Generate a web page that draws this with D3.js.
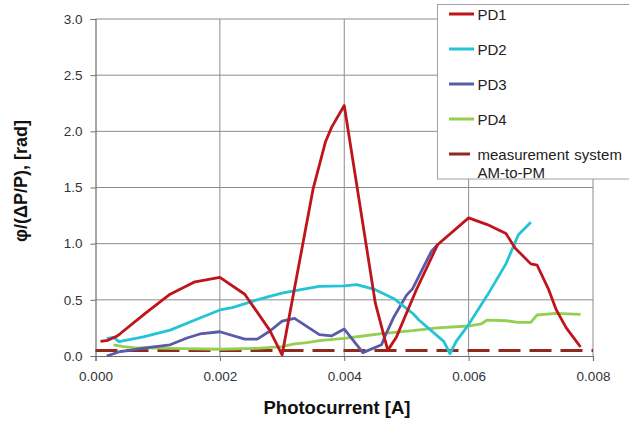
<!DOCTYPE html>
<html>
<head>
<meta charset="utf-8">
<script src="https://cdn.jsdelivr.net/npm/d3@7"></script>
<style>
  body { margin: 0; background: #fff; }
  svg { display: block; font-family: "Liberation Sans", Arial, sans-serif; }
</style>
</head>
<body>
<div id="chart"></div>
<script>
"use strict"

/* data: photocurrent [A] and phi/(dP/P) [rad] */
let pd1X = [0.00008, 0.0002, 0.00034, 0.0004, 0.0008, 0.0012, 0.0016, 0.002, 0.0024, 0.0028, 0.003, 0.0035, 0.0037, 0.0038, 0.004, 0.0045, 0.0047, 0.00484, 0.00516, 0.0055, 0.006, 0.0063, 0.0066, 0.00675, 0.007, 0.0071, 0.00728, 0.00741, 0.00757, 0.0078];
let pd1Y = [0.13, 0.14, 0.175, 0.2, 0.38, 0.55, 0.66, 0.7, 0.55, 0.23, 0.01, 1.49, 1.91, 2.04, 2.23, 0.47, 0.05, 0.17, 0.59, 0.99, 1.23, 1.17, 1.09, 0.96, 0.82, 0.81, 0.6, 0.41, 0.25, 0.08];

let pd2X = [0.00018, 0.00029, 0.00038, 0.00077, 0.0012, 0.0016, 0.002, 0.0022, 0.0026, 0.0028, 0.003, 0.0033, 0.0036, 0.004, 0.0042, 0.0045, 0.0048, 0.0051, 0.0052, 0.0056, 0.0057, 0.0058, 0.006, 0.0063, 0.0066, 0.0068, 0.007];
let pd2Y = [0.155, 0.165, 0.127, 0.17, 0.23, 0.32, 0.41, 0.43, 0.5, 0.53, 0.56, 0.59, 0.62, 0.625, 0.635, 0.59, 0.51, 0.38, 0.32, 0.13, 0.02, 0.13, 0.28, 0.54, 0.82, 1.08, 1.19];

let pd3X = [0.00018, 0.0004, 0.00055, 0.00077, 0.0012, 0.00147, 0.00168, 0.002, 0.0024, 0.0026, 0.0028, 0.003, 0.0032, 0.0036, 0.0038, 0.004, 0.0041, 0.0043, 0.0046, 0.00465, 0.0048, 0.005, 0.0051, 0.0054, 0.0055];
let pd3Y = [0.0, 0.04, 0.05, 0.07, 0.1, 0.16, 0.196, 0.216, 0.15, 0.15, 0.22, 0.31, 0.335, 0.19, 0.18, 0.24, 0.17, 0.03, 0.1, 0.17, 0.35, 0.54, 0.6, 0.93, 0.99];

let pd4X = [0.00029, 0.00045, 0.00061, 0.001, 0.0014, 0.002, 0.0026, 0.003, 0.0032, 0.0034, 0.0036, 0.004, 0.0043, 0.0046, 0.0051, 0.0055, 0.006, 0.0062, 0.0063, 0.0066, 0.0068, 0.007, 0.0071, 0.0074, 0.0078];
let pd4Y = [0.1, 0.083, 0.074, 0.07, 0.065, 0.06, 0.068, 0.083, 0.107, 0.12, 0.136, 0.157, 0.178, 0.2, 0.225, 0.25, 0.267, 0.285, 0.32, 0.314, 0.3, 0.3, 0.365, 0.38, 0.37];

let refX = [0.0, 0.008];
let refY = [0.05, 0.05];

let xTicks = [0, 0.002, 0.004, 0.006, 0.008];
let yTicks = [0, 0.5, 1.0, 1.5, 2.0, 2.5, 3.0];
let seriesNames = ["PD1", "PD2", "PD3", "PD4", "measurement system"];

let width = 629, height = 424;

let drawing = d3.select("#chart")
    .append("svg")
    .attr("width", width)
    .attr("height", height);

let x = d3.scaleLinear().domain([0, 0.008]).range([95.5, 593]);
let y = d3.scaleLinear().domain([0, 3]).range([356, 19]);

/* grid */
drawing.append("g")
    .selectAll("line.v")
    .data(xTicks.slice(1))
    .join("line")
    .attr("x1", d => x(d)).attr("x2", d => x(d))
    .attr("y1", y(3)).attr("y2", y(0))
    .attr("stroke", "#8c8c8c")
    .attr("stroke-width", 1);

drawing.append("g")
    .selectAll("line.h")
    .data(yTicks.slice(1))
    .join("line")
    .attr("x1", x(0)).attr("x2", x(0.008))
    .attr("y1", d => y(d)).attr("y2", d => y(d))
    .attr("stroke", "#8c8c8c")
    .attr("stroke-width", 1);

/* axes */
let xAxis = drawing.append("g")
    .attr("transform", `translate(0,${y(0)})`)
    .call(d3.axisBottom(x).tickValues(xTicks).tickFormat(d3.format(".3f")).tickSize(5).tickPadding(10));

let yAxis = drawing.append("g")
    .attr("transform", `translate(${x(0)},0)`)
    .call(d3.axisLeft(y).tickValues(yTicks).tickFormat(d3.format(".1f")).tickSize(5).tickPadding(8));

[xAxis, yAxis].forEach(a => {
  a.select(".domain").attr("stroke", "#6e6e6e").attr("stroke-width", 1.2);
  a.selectAll(".tick line").attr("stroke", "#6e6e6e");
  a.selectAll("text")
    .attr("fill", "#333")
    .style("font-size", "13.5px")
    .style("font-family", "'Liberation Sans', Arial, sans-serif");
});

/* series */
let series = [
  { xs: pd1X, ys: pd1Y, color: "#c0141c" },
  { xs: pd2X, ys: pd2Y, color: "#22c4d6" },
  { xs: pd3X, ys: pd3Y, color: "#5a5aa6" },
  { xs: pd4X, ys: pd4Y, color: "#94cf52" }
];

let line = d3.line().x(d => x(d[0])).y(d => y(d[1]));

/* measurement system dashed line under the curves */
drawing.append("path")
    .attr("d", line(d3.zip(refX, refY)))
    .attr("fill", "none")
    .attr("stroke", "#8e2a1e")
    .attr("stroke-width", 3)
    .attr("stroke-dasharray", "22,9");

[3, 2, 1, 0].forEach(i => {
  let s = series[i];
  drawing.append("path")
    .attr("d", line(d3.zip(s.xs, s.ys)))
    .attr("fill", "none")
    .attr("stroke", s.color)
    .attr("stroke-width", 2.8)
    .attr("stroke-linejoin", "round");
});

/* legend */
let legend = drawing.append("g");
legend.append("rect")
    .attr("x", 437.5).attr("y", 4.5)
    .attr("width", 200).attr("height", 174.5)
    .attr("fill", "white")
    .attr("stroke", "#a0a0a0")
    .attr("stroke-width", 1);

let legendColors = series.map(s => s.color).concat(["#8e2a1e"]);
seriesNames.forEach((name, i) => {
  let ly = 14 + i * 35;
  legend.append("line")
    .attr("x1", 449).attr("x2", i === 4 ? 470 : 474)
    .attr("y1", ly).attr("y2", ly)
    .attr("stroke", legendColors[i])
    .attr("stroke-width", 3);
  legend.append("text")
    .attr("x", 477.5).attr("y", ly + 5.5)
    .attr("fill", "#222")
    .style("font-size", "15px")
    .style("word-spacing", "1px")
    .text(name);
});
legend.append("text")
    .attr("x", 477.5).attr("y", 14 + 4 * 35 + 23.5)
    .attr("fill", "#222")
    .style("font-size", "15px")
    .text("AM-to-PM");

/* axis titles */
drawing.append("text")
    .attr("x", 337).attr("y", 414)
    .attr("text-anchor", "middle")
    .style("font-size", "18.5px")
    .style("font-weight", "bold")
    .attr("fill", "#111")
    .text("Photocurrent [A]");

drawing.append("text")
    .attr("transform", "translate(27,181) rotate(-90)")
    .attr("text-anchor", "middle")
    .style("font-size", "18px")
    .style("font-weight", "bold")
    .attr("fill", "#111")
    .text("φ/(ΔP/P), [rad]");
</script>
</body>
</html>
